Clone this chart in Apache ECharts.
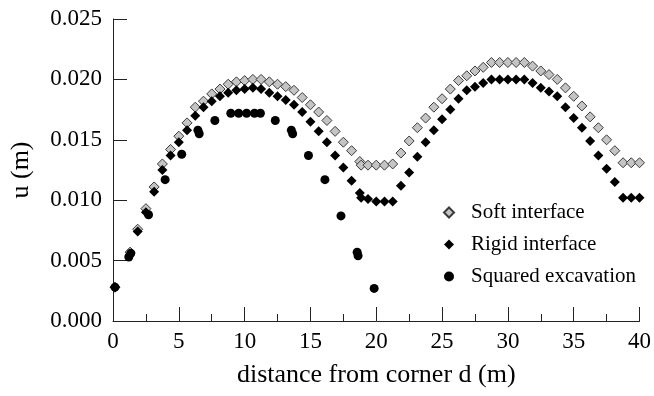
<!DOCTYPE html>
<html>
<head>
<meta charset="utf-8">
<script src="https://cdn.jsdelivr.net/npm/echarts@6/dist/echarts.min.js"></script>
<style>html,body{margin:0;padding:0;background:#fff}#c{width:654px;height:396px}</style>
</head>
<body>
<div id="c"></div>
<script>
// distance (m) for the two interface models
var interfaceD = [0.15,1.3,1.875,2.5,3.125,3.75,4.375,5.0,5.625,6.25,6.875,7.5,8.125,8.75,9.375,10.0,10.625,11.25,11.875,12.5,13.125,13.75,14.375,15.0,15.625,16.25,16.875,17.5,18.125,18.75,18.85,19.375,20.0,20.625,21.25,21.875,22.5,23.125,23.75,24.375,25.0,25.625,26.25,26.875,27.5,28.125,28.75,29.375,30.0,30.625,31.25,31.875,32.5,33.125,33.75,34.375,35.0,35.625,36.25,36.875,37.5,38.125,38.75,39.375,40.0];
var softU = [0.0028,0.0057,0.0076,0.0093,0.0111,0.0130,0.0142,0.0153,0.0164,0.0177,0.0182,0.0188,0.0192,0.0196,0.0198,0.0199,0.0200,0.0200,0.0198,0.0196,0.0194,0.0191,0.0185,0.0179,0.0173,0.0166,0.0157,0.0148,0.0141,0.0132,0.0129,0.0129,0.0129,0.0129,0.0130,0.0139,0.0149,0.0160,0.0168,0.0177,0.0184,0.0192,0.0199,0.0203,0.0207,0.0210,0.0214,0.0214,0.0214,0.0214,0.0214,0.0211,0.0207,0.0204,0.0200,0.0193,0.0186,0.0178,0.0169,0.0160,0.0150,0.0141,0.0131,0.0131,0.0131];
var rigidU = [0.0028,0.0055,0.0074,0.0090,0.0107,0.0125,0.0137,0.0148,0.0158,0.0170,0.0177,0.0182,0.0186,0.0189,0.0191,0.0192,0.0193,0.0192,0.0189,0.0186,0.0183,0.0179,0.0173,0.0165,0.0157,0.0148,0.0137,0.0127,0.0116,0.0106,0.0102,0.0101,0.0099,0.0099,0.0099,0.0112,0.0123,0.0136,0.0148,0.0158,0.0167,0.0175,0.0184,0.0191,0.0194,0.0197,0.0200,0.0200,0.0200,0.0200,0.0200,0.0197,0.0193,0.0190,0.0186,0.0177,0.0168,0.0160,0.0149,0.0137,0.0126,0.0115,0.0102,0.0102,0.0102];
var squaredD = [0.15,1.2,1.35,2.7,3.96,5.22,6.45,6.55,7.74,8.95,9.55,10.15,10.75,11.2,12.33,13.55,13.65,14.85,16.1,17.32,18.55,18.62,19.84];
var squaredU = [0.0028,0.0053,0.0056,0.0088,0.0117,0.0138,0.0158,0.0155,0.0166,0.0172,0.0172,0.0172,0.0172,0.0172,0.0166,0.0158,0.0155,0.0137,0.0117,0.0087,0.0057,0.0054,0.0027];
var seriesNames = ['Soft interface','Rigid interface','Squared excavation'];
var xTicks = {min:0, max:40, interval:5};
var yTicks = {min:0, max:0.025, interval:0.005};

function pairs(xs, ys){ return xs.map(function(x,i){ return [x, ys[i]]; }); }

var chart = echarts.init(document.getElementById('c'), null, {renderer:'canvas'});
var font = '"Liberation Serif","Times New Roman",serif';
chart.setOption({
  animation:false,
  backgroundColor:'#fff',
  textStyle:{fontFamily:font, color:'#000'},
  grid:{left:112, right:13, top:19, bottom:75},
  legend:{
    orient:'vertical', left:438, top:197, itemWidth:10, itemHeight:10, itemGap:11,
    textStyle:{fontFamily:font, fontSize:21, color:'#000', padding:[0,0,0,12], lineHeight:21},
    data:seriesNames
  },
  xAxis:{
    type:'value', min:xTicks.min, max:xTicks.max, interval:xTicks.interval,
    name:'distance from corner d (m)', nameLocation:'middle', nameGap:41,
    nameTextStyle:{fontFamily:font, fontSize:26, color:'#000'},
    axisLine:{show:true, lineStyle:{color:'#222', width:1}},
    axisTick:{show:true, inside:true, length:14, lineStyle:{color:'#222'}},
    minorTick:{show:true, splitNumber:2, length:7, lineStyle:{color:'#222'}},
    axisLabel:{fontFamily:font, fontSize:23, color:'#000', margin:9},
    splitLine:{show:false}
  },
  yAxis:{
    type:'value', min:yTicks.min, max:yTicks.max, interval:yTicks.interval,
    name:'u (m)', nameLocation:'middle', nameGap:79,
    nameTextStyle:{fontFamily:font, fontSize:26, color:'#000'},
    axisLine:{show:true, lineStyle:{color:'#222', width:1}},
    axisTick:{show:true, inside:true, length:14, lineStyle:{color:'#222'}},
    axisLabel:{fontFamily:font, fontSize:23, color:'#000', margin:11, formatter:function(v){return v.toFixed(3);}},
    splitLine:{show:false}
  },
  series:[
    {name:seriesNames[0], type:'scatter', symbol:'diamond', symbolSize:10,
     itemStyle:{color:'#c4c4c4', borderColor:'#3a3a3a', borderWidth:1, opacity:1},
     data:pairs(interfaceD, softU)},
    {name:seriesNames[1], type:'scatter', symbol:'diamond', symbolSize:10,
     itemStyle:{color:'#000', opacity:1},
     data:pairs(interfaceD, rigidU)},
    {name:seriesNames[2], type:'scatter', symbol:'circle', symbolSize:9,
     itemStyle:{color:'#000', opacity:1},
     data:pairs(squaredD, squaredU)}
  ]
});
</script>
</body>
</html>
